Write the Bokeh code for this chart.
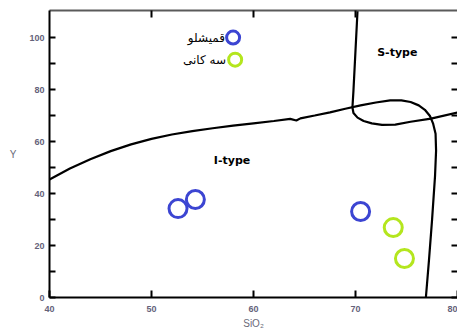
from bokeh.plotting import figure
from bokeh.models import Range1d, LinearAxis, FixedTicker, Label
from bokeh.embed import file_html
from bokeh.resources import INLINE

# --- data ---
qamishlu_sio2 = [52.6, 54.3, 70.5]
qamishlu_y = [34.2, 37.7, 33.1]
sekani_sio2 = [73.7, 74.8]
sekani_y = [26.9, 15.0]

# I-type / S-type boundary (upper curve turning down into the steep line)
curve_a_x = [40.0, 42.0, 44.0, 46.0, 48.0, 50.0, 52.0, 54.0, 56.0, 58.0, 60.0, 62.0, 63.6, 64.2, 64.6,
             66.0, 67.5, 69.0, 70.5, 72.0, 73.4, 74.5, 75.4, 76.2, 76.8, 77.3, 77.6, 77.85, 77.9, 77.8, 77.5, 77.2, 76.9]
curve_a_y = [45.4, 49.6, 53.2, 56.3, 58.9, 61.0, 62.7, 64.0, 65.1, 66.1, 67.0, 67.9, 68.7, 68.1, 68.9,
             70.0, 71.2, 72.6, 73.9, 75.0, 75.8, 75.8, 75.2, 73.9, 72.2, 69.8, 67.0, 63.0, 56.5, 46.9, 29.6, 14.2, 0.0]
# second boundary (steep line from top, bending to the right)
curve_b_x = [70.2, 70.0, 69.8, 69.7, 69.8, 70.2, 70.8, 71.6, 72.6, 73.9, 75.4, 77.4, 80.0]
curve_b_y = [110.4, 95.0, 79.6, 73.1, 71.0, 69.2, 67.9, 67.0, 66.4, 66.5, 67.6, 68.8, 71.2]

x_ticks = [40, 50, 60, 70, 80]
y_ticks = [0, 20, 40, 60, 80, 100]
y_minor = [10, 30, 50, 70, 90]

series_names = ["قمیشلو", "سه کانی"]
blue = "#3c45d2"
green = "#b4e61e"
label_col = "#65627a"

p = figure(width=457, height=336, output_backend="svg", toolbar_location=None,
           x_range=Range1d(40, 80), y_range=Range1d(0, 110.4),
           min_border_left=49, min_border_right=0, min_border_top=10, min_border_bottom=39)
p.outline_line_color = None
p.xgrid.visible = False
p.ygrid.visible = False
p.background_fill_color = "white"

def style_axis(ax, ticks, minor=None, labels=True, line_color="black"):
    ax.ticker = FixedTicker(ticks=ticks, minor_ticks=minor or [])
    ax.major_tick_in = 6
    ax.major_tick_out = 0
    ax.minor_tick_in = 6
    ax.minor_tick_out = 0
    ax.major_tick_line_color = "black"
    ax.minor_tick_line_color = "black"
    ax.major_tick_line_width = 2
    ax.minor_tick_line_width = 2
    ax.axis_line_color = line_color
    ax.axis_line_width = 2
    ax.major_label_text_font = "Liberation Sans"
    ax.major_label_text_font_style = "bold"
    ax.major_label_text_font_size = "9px"
    ax.major_label_text_color = label_col if labels else None
    ax.axis_label_text_font = "Liberation Sans"
    ax.axis_label_text_font_style = "normal"
    ax.axis_label_text_font_size = "10px"
    ax.axis_label_text_color = "#6a6a78"

xa = p.xaxis[0]
style_axis(xa, x_ticks, [])
xa.major_tick_in = 7
xa.axis_label = "SiO₂"
xa.major_label_standoff = 8
xa.axis_label_standoff = 3

ya = p.yaxis[0]
style_axis(ya, y_ticks, y_minor)
ya.axis_label = "Y"
ya.major_label_standoff = 5
ya.axis_label_standoff = 10
try:
    ya.axis_label_orientation = "horizontal"
except Exception:
    pass

top = LinearAxis()
style_axis(top, [50, 60, 70], [], labels=False, line_color="#5a5a5a")
top.major_tick_in = 7
p.add_layout(top, "above")

right = LinearAxis()
style_axis(right, y_ticks, y_minor, labels=False, line_color=None)
p.add_layout(right, "right")

p.line(curve_a_x, curve_a_y, line_color="black", line_width=2.2)
p.line(curve_b_x, curve_b_y, line_color="black", line_width=2.2)

p.scatter(qamishlu_sio2, qamishlu_y, size=18, fill_color=None, line_color=blue, line_width=3)
p.scatter(sekani_sio2, sekani_y, size=18, fill_color=None, line_color=green, line_width=3)

# legend markers and names
p.scatter([58.0], [100.0], size=13, fill_color=None, line_color=blue, line_width=3)
p.scatter([58.2], [91.5], size=13, fill_color=None, line_color=green, line_width=3)
p.add_layout(Label(x=57.2, y=100.0, text=series_names[0], text_align="right", text_baseline="middle",
                   text_font="DejaVu Sans", text_font_size="12px", text_color="black"))
p.add_layout(Label(x=57.3, y=91.5, text=series_names[1], text_align="right", text_baseline="middle",
                   text_font="DejaVu Sans", text_font_size="12px", text_color="black"))

p.add_layout(Label(x=74.1, y=94.2, text="S-type", text_align="center", text_baseline="middle",
                   text_font="DejaVu Sans", text_font_style="bold", text_font_size="11px", text_color="black"))
p.add_layout(Label(x=57.9, y=52.7, text="I-type", text_align="center", text_baseline="middle",
                   text_font="DejaVu Sans", text_font_style="bold", text_font_size="11px", text_color="black"))

open("out.html", "w").write(file_html(p, INLINE))
